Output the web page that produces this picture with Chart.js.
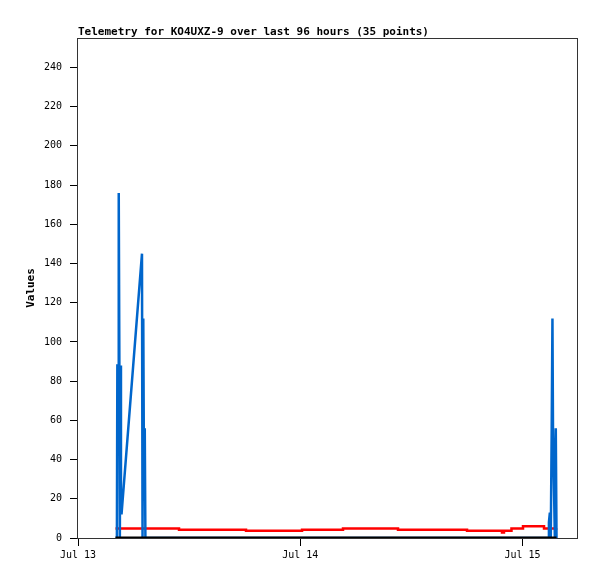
<!DOCTYPE html>
<html><head><meta charset="utf-8">
<script src="https://cdn.jsdelivr.net/npm/chart.js@4"></script>
<style>html,body{margin:0;padding:0;background:#fff;}#wrap{width:597px;height:579px;}</style>
</head><body><div id="wrap"><canvas id="c" width="597" height="579"></canvas></div>
<script>
// hours since Jul 13 00:00
const hours = [4.05, 4.20, 4.25, 4.32, 4.40, 4.47, 4.52, 4.58, 4.64, 4.70, 6.91, 6.97, 7.05, 7.13, 7.21, 7.28,
  9.40, 12.42, 16.42, 19.87, 22.90, 25.49, 27.22, 30.02, 32.62, 36.50, 39.10, 44.93, 45.68, 45.90, 46.11,
  47.52, 48.60, 49.90,
  50.76, 50.86, 50.96, 51.06, 51.16, 51.24, 51.30, 51.40, 51.50, 51.60, 51.68];
const blueValues = [0, 0, 88, 88, 176, 88, 0, 88, 16, 12, 145, 0, 112, 28, 56, 0,
  0, 0, 0, 0, 0, 0, 0, 0, 0, 0, 0, 0, 0, 0, 0,
  0, 0, 0,
  0, 8, 13, 0, 56, 112, 56, 56, 0, 56, 0];
const redValues = [4.8, 4.8, 4.8, 4.8, 4.8, 4.8, 4.8, 4.8, 4.8, 4.8, 4.8, 4.8, 4.8, 4.8, 4.8, 4.8,
  4.8, 4.2, 4.2, 3.7, 3.7, 4.2, 4.2, 4.8, 4.8, 4.2, 4.2, 3.7, 3.7, 2.8, 3.7,
  4.8, 6.0, 6.0,
  4.8, 4.8, 4.8, 4.8, 4.8, 4.8, 4.8, 4.8, 4.8, 4.8, 5.0];
const blackValues = hours.map(() => 0);
const xTickHours = [0, 24, 48];
const xTickLabels = ['Jul 13', 'Jul 14', 'Jul 15'];
const yTickValues = [0, 20, 40, 60, 80, 100, 120, 140, 160, 180, 200, 220, 240];
const titleText = 'Telemetry for KO4UXZ-9 over last 96 hours (35 points)';

const pts = (vals) => hours.map((h, i) => ({x: h, y: vals[i]}));

const framePlugin = {
  id: 'frame',
  afterDatasetsDraw(chart) {
    const {ctx, chartArea: a} = chart;
    ctx.save();
    ctx.strokeStyle = '#333';
    ctx.lineWidth = 1;
    ctx.strokeRect(Math.round(a.left) - 0.5, Math.round(a.top) + 0.5, Math.round(a.right - a.left), Math.round(a.bottom - a.top));
    ctx.fillStyle = '#000';
    ctx.font = 'bold 11px "DejaVu Sans Mono"';
    ctx.textAlign = 'left';
    ctx.textBaseline = 'alphabetic';
    ctx.fillText(titleText, a.left, 35);
    ctx.restore();
  }
};

const mono = '"DejaVu Sans Mono", "Liberation Mono", monospace';

new Chart(document.getElementById('c'), {
  type: 'line',
  data: {
    datasets: [
      {label: 'zero', data: pts(blackValues), borderColor: '#000', borderWidth: 3, pointRadius: 0, tension: 0},
      {label: 'blue', data: pts(blueValues), borderColor: '#0066cc', borderWidth: 2.5, pointRadius: 0, tension: 0, borderJoinStyle: 'miter'},
      {label: 'red', data: pts(redValues), borderColor: '#ff0000', borderWidth: 2.5, pointRadius: 0, stepped: 'middle'}
    ]
  },
  options: {
    responsive: false,
    animation: false,
    devicePixelRatio: 1,
    layout: {padding: {left: 0, right: 19, top: 38, bottom: 0}},
    plugins: {legend: {display: false}, tooltip: {enabled: false}, title: {display: false}},
    scales: {
      x: {
        type: 'linear', min: 0, max: 54,
        afterBuildTicks: (s) => { s.ticks = xTickHours.map(v => ({value: v})); },
        afterFit: (s) => { s.height = 41; },
        grid: {drawOnChartArea: false, drawTicks: true, tickLength: 8, color: '#000'},
        border: {display: false},
        ticks: {autoSkip: false, maxRotation: 0, padding: 3, color: '#000', font: {family: mono, size: 10},
          callback: (v, i) => xTickLabels[i]}
      },
      y: {
        type: 'linear', min: 0, max: 255,
        afterBuildTicks: (s) => { s.ticks = yTickValues.map(v => ({value: v})); },
        afterFit: (s) => { s.width = 78; },
        grid: {drawOnChartArea: false, drawTicks: true, tickLength: 8, color: '#000'},
        border: {display: false},
        ticks: {autoSkip: false, padding: 8, color: '#000', font: {family: mono, size: 10}},
        title: {display: true, text: 'Values', color: '#000', font: {family: mono, size: 11, weight: 'bold'}, padding: {top: 25, bottom: 0}}
      }
    }
  },
  plugins: [framePlugin]
});
</script></body></html>
